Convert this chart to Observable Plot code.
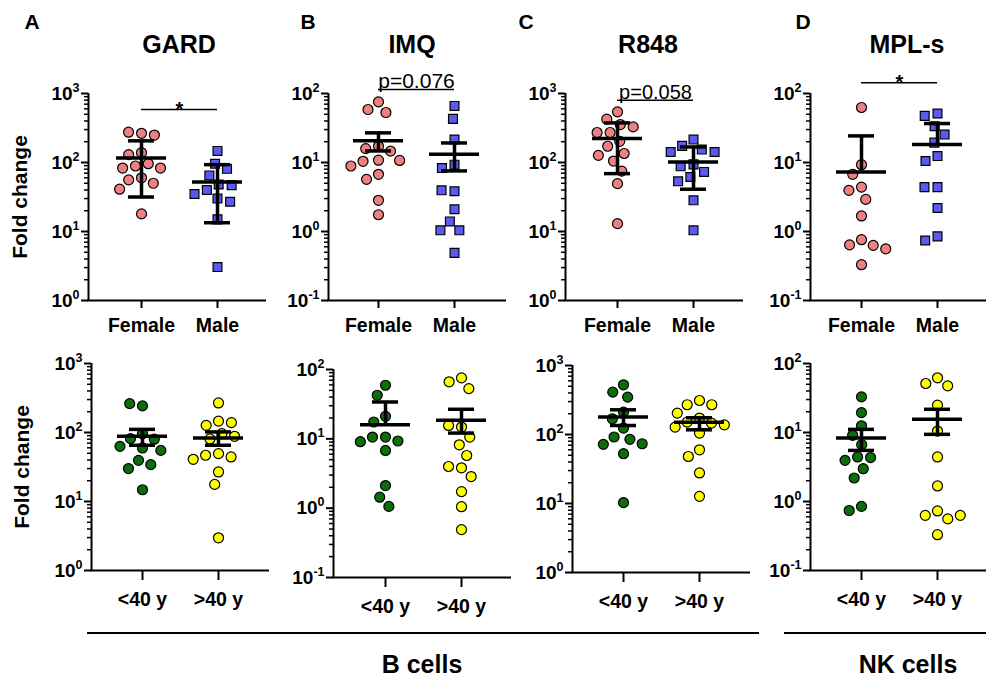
<!DOCTYPE html>
<html><head><meta charset="utf-8">
<script src="https://cdn.jsdelivr.net/npm/d3@7"></script>
<script src="https://cdn.jsdelivr.net/npm/@observablehq/plot@0.6"></script>
<style>
body{margin:0;background:#fff;}
#root{position:relative;width:986px;height:677px;overflow:hidden;background:#fff;font-family:"Liberation Sans",Arial,Helvetica,sans-serif;}
.panel{position:absolute;}
</style></head><body><div id="root"></div>
<script>
const FONT = '"Liberation Sans", Arial, Helvetica, sans-serif';

// ---------- data ----------
const stimuli = ["GARD", "IMQ", "R848", "MPL-s"];
const panelLetters = ["A", "B", "C", "D"];
const sexGroups = ["Female", "Male"];
const ageGroups = ["<40 y", ">40 y"];
const logDomains = [[1, 1000], [0.1, 100], [1, 1000], [0.1, 100]];
const sigLabels = ["*", "p=0.076", "p=0.058", "*"];
const cellTypes = ["B cells", "NK cells"];
const yLabel = "Fold change";

// top row: by sex
const gardFemale = [265, 275, 250, 139, 130, 96, 89, 83, 83, 60, 56, 50, 41, 18];
const gardMale   = [147, 96, 81, 65, 48, 47, 40, 35, 30, 27, 15, 3.05];
const imqFemale  = [75.7, 58.6, 53, 17.2, 15.9, 14.6, 10.8, 10.4, 10.7, 8.9, 6.75, 5.7, 2.83, 1.75];
const imqMale    = [66, 42.9, 21.5, 9.3, 8.3, 3.83, 3.95, 2.1, 1.4, 1.04, 1.04, 0.49];
const r848Female = [542, 424, 355, 328, 272, 272, 203, 172, 135, 127, 105, 75, 49.4, 13];
const r848Male   = [215, 174, 154, 142, 142, 94, 88, 73, 61.7, 53.4, 28.3, 10.4];
const mplFemale  = [62.7, 9.3, 6.75, 4.4, 3.95, 2.92, 1.68, 0.76, 0.64, 0.63, 0.56, 0.33];
const mplMale    = [51.3, 47.4, 33.6, 25.4, 19.4, 12.4, 10.5, 4.4, 4.4, 2.19, 0.85, 0.74];

// bottom row: by age
const gardYoung = [243, 262, 96, 81.5, 80, 59.7, 63, 55, 39.5, 34.2, 30, 14.8];
const gardOld   = [268, 146, 127, 139, 96, 88, 80.7, 49.4, 46.8, 44.2, 40.9, 26.8, 17.7, 2.98];
const imqYoung  = [59.3, 42.5, 21.1, 17.5, 10.6, 10.6, 9.3, 9.1, 6.8, 2.12, 1.44, 1.06];
const imqOld    = [75.7, 66.4, 53, 14.8, 15.6, 10.6, 8.2, 5.75, 3.82, 3.99, 2.86, 1.73, 1.05, 0.49];
const r848Young = [525, 411, 348, 211, 169, 124, 92, 85, 73.5, 72, 52.7, 10.3];
const r848Old   = [311, 270, 270, 204, 173, 151, 146, 138, 128, 105, 60, 48, 27.7, 12.7];
const mplYoung  = [32.8, 19.4, 12.5, 9.1, 6.67, 4.42, 4.33, 3.95, 2.99, 2.19, 0.85, 0.74];
const mplOld    = [62, 51.3, 47.4, 24.9, 10.5, 4.42, 1.68, 0.73, 0.63, 0.56, 0.63, 0.33];

// mean and error bar ends (lo = null: lower bar not drawn)
const gardSexStats = [{g: "Female", mean: 116, lo: 31.6, hi: 206}, {g: "Male", mean: 52, lo: 13.4, hi: 93}];
const imqSexStats  = [{g: "Female", mean: 20.6, lo: 14.7, hi: 26.9}, {g: "Male", mean: 13.2, lo: 7.55, hi: 19.2}];
const r848SexStats = [{g: "Female", mean: 222, lo: 69, hi: 375}, {g: "Male", mean: 102, lo: 41, hi: 168}];
const mplSexStats  = [{g: "Female", mean: 7.3, lo: null, hi: 24.3}, {g: "Male", mean: 18.2, lo: null, hi: 36.7}];
const gardAgeStats = [{g: "<40 y", mean: 88, lo: 65.3, hi: 111}, {g: ">40 y", mean: 83.4, lo: 65.3, hi: 102}];
const imqAgeStats  = [{g: "<40 y", mean: 16, lo: null, hi: 34}, {g: ">40 y", mean: 18.5, lo: 12.1, hi: 26.7}];
const r848AgeStats = [{g: "<40 y", mean: 179, lo: 135, hi: 228}, {g: ">40 y", mean: 150, lo: 117, hi: 175}];
const mplAgeStats  = [{g: "<40 y", mean: 8.35, lo: 5.5, hi: 11.1}, {g: ">40 y", mean: 15.6, lo: 9.4, hi: 21.7}];

const sexSeries = [[gardFemale, gardMale], [imqFemale, imqMale], [r848Female, r848Male], [mplFemale, mplMale]];
const ageSeries = [[gardYoung, gardOld], [imqYoung, imqOld], [r848Young, r848Old], [mplYoung, mplOld]];
const sexStats = [gardSexStats, imqSexStats, r848SexStats, mplSexStats];
const ageStats = [gardAgeStats, imqAgeStats, r848AgeStats, mplAgeStats];

// ---------- layout / style ----------
const sexColors = ["#f08080", "#5a5af0"];
const ageColors = ["#0b6e0b", "#ffff00"];
const topLayout = [
  {axisX: 88, c0: 141, yTop: 93, yBottom: 300, sigY: 586, sigDy: 0, sigSize: 20, sigWeight: "bold"},
  {axisX: 328, c0: 378, yTop: 93, yBottom: 300, sigY: 114, sigDy: -8, sigSize: 21, sigWeight: "normal"},
  {axisX: 565, c0: 617, yTop: 93, yBottom: 300, sigY: 800, sigDy: -8, sigSize: 20, sigWeight: "normal"},
  {axisX: 810, c0: 861, yTop: 93, yBottom: 300, sigY: 143, sigDy: 0, sigSize: 20, sigWeight: "bold"}
];
const bottomLayout = [
  {axisX: 91, c0: 142, yTop: 363, yBottom: 570},
  {axisX: 333, c0: 385, yTop: 369, yBottom: 577},
  {axisX: 572, c0: 623, yTop: 365, yBottom: 572},
  {axisX: 810, c0: 861, yTop: 363, yBottom: 570}
];

const root = document.getElementById("root");

function drawPanel({groups, series, stats, colors, symbols, domain, lay, top, tickSize, tickPadding, sig}) {
  const HALF = 38;
  const L = lay.axisX - 80, W = 272;
  const marginLeft = lay.c0 - HALF - L;
  const marginRight = W - marginLeft - 4 * HALF;
  const marginTop = lay.yTop - top;
  const marginBottom = 50;
  const height = lay.yBottom - top + marginBottom;
  const ax = lay.axisX - lay.c0;
  const ext = lay.axisX + 178 - (lay.c0 + 2 * HALF);
  const [lo, hi] = domain;
  const e0 = Math.round(Math.log10(lo)), e1 = Math.round(Math.log10(hi));
  const g0 = groups[0], g1 = groups[1];
  const majorTicks = d3.range(e0, e1 + 1).map(e => ({g: g0, v: Math.pow(10, e), e}));
  const minorTicks = d3.range(e0, e1).flatMap(e => d3.range(2, 10).map(k => ({g: g0, v: k * Math.pow(10, e)})));
  const points = series.flatMap((vals, i) => vals.map(v => ({g: groups[i], v})));
  const caps = stats.flatMap(s => [s.hi, s.lo].filter(v => v != null).map(v => ({g: s.g, v})));

  const marks = [
    Plot.ruleX([{g: g0}], {fx: "g", x: ax, y1: lo, y2: hi, strokeWidth: 2}),
    Plot.ruleY([{g: g0, a: ax - 1, b: HALF}, {g: g1, a: -HALF, b: ext}], {fx: "g", y: lo, x1: "a", x2: "b", strokeWidth: 2}),
    Plot.ruleY(majorTicks, {fx: "g", y: "v", x1: ax - 7, x2: ax, strokeWidth: 2}),
    Plot.ruleY(minorTicks, {fx: "g", y: "v", x1: ax - 4, x2: ax, strokeWidth: 1.5}),
    Plot.text(majorTicks, {fx: "g", y: "v", x: ax - 9, text: d => "10^" + d.e, textAnchor: "end", fontSize: 19, fontWeight: "bold"}),
    Plot.axisFx({anchor: "bottom", tickSize, tickPadding, label: null, strokeWidth: 2, fontSize: 19.5, fontWeight: "bold"}),
    Plot.dot(points, Plot.dodgeX({anchor: "middle", padding: 3}, {fx: "g", y: "v", r: 5, fill: "g", symbol: "g", stroke: "black", strokeWidth: 1.2})),
    Plot.ruleX(stats, {fx: "g", x: 0, y1: d => d.lo ?? d.mean, y2: "hi", strokeWidth: 3.5}),
    Plot.ruleY(stats, {fx: "g", y: "mean", x1: -25, x2: 25, strokeWidth: 3.5}),
    Plot.ruleY(caps, {fx: "g", y: "v", x1: -13, x2: 13, strokeWidth: 3.5})
  ];
  if (sig) {
    marks.push(
      Plot.ruleY([{g: g0, a: 0, b: HALF}, {g: g1, a: -HALF, b: 0}], {fx: "g", y: lay.sigY, x1: "a", x2: "b", strokeWidth: 1.5}),
      Plot.text([{g: g0}], {fx: "g", x: HALF, y: lay.sigY, text: () => sig, dy: lay.sigDy, fontSize: lay.sigSize, fontWeight: lay.sigWeight})
    );
  }
  const svg = Plot.plot({
    width: W, height, marginLeft, marginRight, marginTop, marginBottom,
    style: {fontFamily: FONT, fontSize: "19px", fontWeight: "bold", color: "black", background: "none", overflow: "visible"},
    fx: {domain: groups, padding: 0, label: null, axis: null},
    x: {domain: [-HALF, HALF], axis: null},
    y: {type: "log", domain, axis: null},
    color: {domain: groups, range: colors},
    symbol: {domain: groups, range: symbols},
    marks
  });
  svg.querySelectorAll("text").forEach(t => {
    const m = /^10\^(-?\d+)$/.exec(t.textContent.trim());
    if (m) {
      t.textContent = "";
      const ns = "http://www.w3.org/2000/svg";
      const a = document.createElementNS(ns, "tspan"); a.textContent = "10";
      const b = document.createElementNS(ns, "tspan"); b.textContent = m[1];
      b.setAttribute("font-size", "12.5px"); b.setAttribute("dy", "-8px");
      t.appendChild(a); t.appendChild(b);
    }
  });
  svg.classList.add("panel");
  svg.style.position = "absolute";
  svg.style.left = L + "px";
  svg.style.top = top + "px";
  root.appendChild(svg);
}

for (let i = 0; i < 4; i++) {
  drawPanel({groups: sexGroups, series: sexSeries[i], stats: sexStats[i], colors: sexColors,
    symbols: ["circle", "square"], domain: logDomains[i], lay: topLayout[i], top: 60,
    tickSize: 8, tickPadding: 10, sig: sigLabels[i]});
  drawPanel({groups: ageGroups, series: ageSeries[i], stats: ageStats[i], colors: ageColors,
    symbols: ["circle", "circle"], domain: logDomains[i], lay: bottomLayout[i], top: 335,
    tickSize: 10, tickPadding: 12, sig: null});
}

// ---------- titles, letters, labels, caption ----------
const over = d3.select(root).append("svg")
  .attr("width", 986).attr("height", 677)
  .style("position", "absolute").style("left", 0).style("top", 0)
  .style("pointer-events", "none")
  .attr("font-family", FONT).attr("font-weight", "bold").attr("fill", "black");
const titleX = [179, 412, 648, 907];
const letterX = [32, 308, 526, 803];
stimuli.forEach((s, i) => {
  over.append("text").attr("x", titleX[i]).attr("y", 53).attr("text-anchor", "middle").attr("font-size", 25).text(s);
  over.append("text").attr("x", letterX[i]).attr("y", 29).attr("text-anchor", "middle").attr("font-size", 21).text(panelLetters[i]);
});
[[27, 197], [29, 467]].forEach(([x, y]) => {
  over.append("text").attr("transform", `translate(${x},${y}) rotate(-90)`).attr("text-anchor", "middle").attr("font-size", 21).text(yLabel);
});
over.append("line").attr("x1", 87).attr("x2", 759).attr("y1", 633).attr("y2", 633).attr("stroke", "black").attr("stroke-width", 2);
over.append("line").attr("x1", 784).attr("x2", 986).attr("y1", 633).attr("y2", 633).attr("stroke", "black").attr("stroke-width", 2);
over.append("text").attr("x", 422).attr("y", 673).attr("text-anchor", "middle").attr("font-size", 25).text(cellTypes[0]);
over.append("text").attr("x", 908).attr("y", 673).attr("text-anchor", "middle").attr("font-size", 25).text(cellTypes[1]);
</script></body></html>
